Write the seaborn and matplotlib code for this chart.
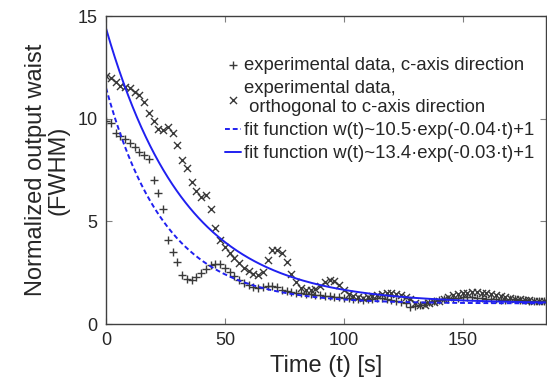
import numpy as np
import pandas as pd
import matplotlib
matplotlib.use("Agg")
import matplotlib.pyplot as plt
import seaborn as sns

# time axis of the measurements (s)
time_s = list(range(0, 186, 2))

# experimental data, c-axis direction (+)
c_axis = [
    9.9, 9.8, 9.3, 9.15, 9.0, 8.8, 8.6, 8.4, 8.25, 8.05,
    7.0, 6.4, 5.6, 4.1, 3.5, 3.0, 2.4, 2.2, 2.15, 2.3,
    2.5, 2.7, 2.85, 2.9, 2.9, 2.75, 2.55, 2.35, 2.15, 2.0,
    1.9, 1.8, 1.75, 1.8, 1.85, 1.85, 1.8, 1.65, 1.6, 1.55,
    1.5, 1.5, 1.48, 1.45, 1.42, 1.4, 1.38, 1.35, 1.32, 1.3,
    1.27, 1.25, 1.22, 1.2, 1.18, 1.2, 1.22, 1.25, 1.25, 1.2,
    1.15, 1.1, 1.05, 1.0, 0.85, 0.9, 0.95, 1.0, 1.05, 1.1,
    1.15, 1.2, 1.2, 1.25, 1.25, 1.3, 1.3, 1.3, 1.25, 1.25,
    1.2, 1.2, 1.2, 1.15, 1.15, 1.2, 1.2, 1.15, 1.15, 1.1,
    1.1, 1.1, 1.1,
]

# experimental data, orthogonal to c-axis direction (x)
orthogonal = [
    12.1, 12.0, 11.8, 11.6, 11.55, 11.5, 11.3, 11.15, 10.8, 10.3,
    9.9, 9.5, 9.45, 9.6, 9.3, 8.7, 8.0, 7.6, 6.9, 6.5,
    6.2, 6.3, 5.6, 4.7, 4.1, 3.75, 3.45, 3.2, 2.95, 2.75,
    2.6, 2.45, 2.4, 2.55, 3.1, 3.6, 3.6, 3.45, 3.0, 2.45,
    2.05, 1.75, 1.65, 1.65, 1.7, 1.85, 2.05, 2.15, 2.1, 1.9,
    1.65, 1.45, 1.35, 1.3, 1.25, 1.3, 1.35, 1.4, 1.45, 1.5,
    1.5, 1.45, 1.4, 1.3, 1.2, 1.0, 0.95, 0.95, 1.0, 1.05,
    1.1, 1.2, 1.3, 1.4, 1.45, 1.5, 1.5, 1.55, 1.55, 1.5,
    1.5, 1.45, 1.4, 1.35, 1.3, 1.25, 1.2, 1.2, 1.15, 1.15,
    1.1, 1.1, 1.1,
]

# fit parameters w(t) = a * exp(-b * t) + c
fit_dashed = (10.5, 0.04, 1.0)
fit_solid = (13.4, 0.03, 1.0)

sns.set_style("ticks")
plt.rcParams["font.family"] = ["Liberation Sans", "DejaVu Sans"]

data = pd.DataFrame({"t": time_s, "c_axis": c_axis, "orth": orthogonal})
t_fit = np.linspace(0, 185, 300)
fits = pd.DataFrame({
    "t": t_fit,
    "dashed": fit_dashed[0] * np.exp(-fit_dashed[1] * t_fit) + fit_dashed[2],
    "solid": fit_solid[0] * np.exp(-fit_solid[1] * t_fit) + fit_solid[2],
})

fig = plt.figure(figsize=(5.47, 3.85), dpi=100)
ax = fig.add_axes([0.1938, 0.1584, 0.8042, 0.8])

sns.scatterplot(data=data, x="t", y="c_axis", marker="+", s=40, color="#3a3a3a",
                linewidth=1.0, ax=ax, label="experimental data, c-axis direction")
sns.scatterplot(data=data, x="t", y="orth", marker="x", s=26, color="#3a3a3a",
                linewidth=1.0, ax=ax,
                label="experimental data,\n orthogonal to c-axis direction")
sns.lineplot(data=fits, x="t", y="dashed", color="#2020f0", linewidth=1.4,
             linestyle=(0, (2.5, 1.5)), ax=ax,
             label="fit function w(t)~10.5·exp(-0.04·t)+1")
sns.lineplot(data=fits, x="t", y="solid", color="#2020f0", linewidth=1.4, ax=ax,
             label="fit function w(t)~13.4·exp(-0.03·t)+1")

ax.set_xlim(0, 185)
ax.set_ylim(0, 15)
ax.set_xticks([0, 50, 100, 150])
ax.set_yticks([0, 5, 10, 15])
ax.tick_params(direction="in", top=True, right=True, labelsize=13, length=4,
               color="#808080", pad=6)
for sp in ax.spines.values():
    sp.set_visible(True)
    sp.set_color("#404040")
    sp.set_linewidth(1.0)

ax.set_xlabel("Time (t) [s]", fontsize=17, labelpad=4)
ax.set_ylabel("Normalized output waist\n(FWHM)", fontsize=17, labelpad=6,
              linespacing=1.0)

ax.legend(loc="upper left", bbox_to_anchor=(0.27, 0.868), frameon=False,
          fontsize=13.3, handlelength=0.9, handletextpad=0.12, borderpad=0,
          labelspacing=0.32, borderaxespad=0)

fig.savefig("out.png", dpi=100)
